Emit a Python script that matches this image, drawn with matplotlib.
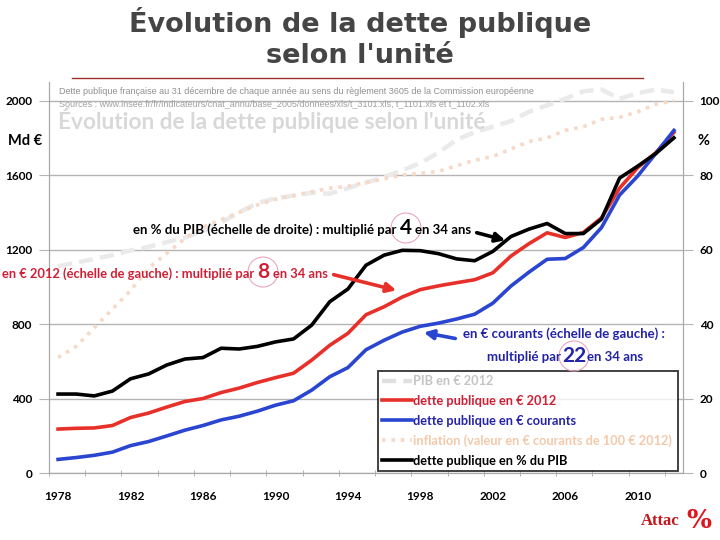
import matplotlib
matplotlib.use('Agg')
import matplotlib.pyplot as plt
from matplotlib.patches import Ellipse, FancyArrowPatch
from matplotlib.lines import Line2D

# données
annees = [1978, 1979, 1980, 1981, 1982, 1983, 1984, 1985, 1986, 1987,
          1988, 1989, 1990, 1991, 1992, 1993, 1994, 1995, 1996, 1997,
          1998, 1999, 2000, 2001, 2002, 2003, 2004, 2005, 2006, 2007,
          2008, 2009, 2010, 2011, 2012]
dette_courants = [73, 83, 95, 112, 147, 169, 199, 230, 255, 285,
                  305, 332, 364, 388, 445, 517, 566, 662, 713, 757,
                  788, 805, 827, 853, 912, 1004, 1079, 1148, 1152, 1211,
                  1318, 1493, 1595, 1717, 1840]
dette_2012 = [236, 240, 242, 255, 298, 322, 354, 384, 400, 432,
              456, 486, 512, 536, 606, 686, 750, 850, 893, 945,
              985, 1005, 1022, 1038, 1075, 1165, 1232, 1290, 1265, 1292,
              1370, 1530, 1640, 1720, 1830]
pib_2012 = [1110, 1130, 1150, 1170, 1195, 1215, 1240, 1265, 1300, 1345,
            1400, 1450, 1475, 1490, 1505, 1500, 1530, 1560, 1590, 1625,
            1665, 1720, 1790, 1830, 1860, 1890, 1940, 1975, 2010, 2050,
            2060, 2010, 2040, 2060, 2045]
dette_pct_pib = [21.2, 21.2, 20.7, 22.0, 25.3, 26.6, 29.0, 30.6, 31.0, 33.5,
                 33.3, 34.0, 35.2, 36.0, 39.7, 46.0, 49.4, 55.8, 58.5, 59.8,
                 59.7, 58.9, 57.5, 57.0, 59.5, 63.5, 65.5, 67.0, 64.3, 64.3,
                 68.2, 79.2, 82.4, 85.8, 90.0]
inflation = [31, 34, 39, 44, 49, 55, 59, 63, 66, 68,
             70, 72, 73.5, 74.5, 75.5, 76.5, 77, 78, 79, 80,
             80.5, 81, 82.5, 84, 85, 87, 89, 90, 92, 93,
             95, 95.5, 97, 99, 100]

labels_x = [1978, 1982, 1986, 1990, 1994, 1998, 2002, 2006, 2010]

plt.rcParams['font.family'] = ['Lato', 'DejaVu Sans']

W, H = 720, 540
fig = plt.figure(figsize=(7.2, 5.4), dpi=100)

def fx(x):
    return x / W

def fy(y):
    return 1 - y / H

ax = fig.add_axes([fx(49), fy(473), fx(683) - fx(49), fy(82) - fy(473)])
ax2 = ax.twinx()

c_gris = '#eaeaea'
c_rouge = '#e8302a'
c_bleu = '#2a45d0'
c_infl = '#f6d9c6'
c_grille = '#b4b4b4'

ax.plot(annees, pib_2012, color=c_gris, lw=3.2, ls=(0, (3.2, 1.6)), zorder=2)
ax.plot(annees, dette_2012, color=c_rouge, lw=2.6, zorder=4)
ax.plot(annees, dette_courants, color=c_bleu, lw=2.6, zorder=5)
ax2.plot(annees, inflation, color=c_infl, lw=2.6, ls=(0, (1, 1.6)), zorder=2)
ax2.plot(annees, dette_pct_pib, color='black', lw=2.6, zorder=6)

ax.set_xlim(1977.5, 2012.5)
ax.set_ylim(0, 2100)
ax2.set_ylim(0, 105)
ax.set_yticks([0, 400, 800, 1200, 1600, 2000])
ax2.set_yticks([0, 20, 40, 60, 80, 100])
ax.set_xticks(labels_x)
ax.set_xticks([1977.5 + 2 * k for k in range(18)], minor=True)
ax.grid(axis='y', color=c_grille, lw=1, zorder=0)
ax.set_axisbelow(True)

for a in (ax, ax2):
    for s in a.spines.values():
        s.set_color('#a8a8a8')
    a.spines['top'].set_visible(False)

ax.tick_params(axis='y', length=7, color=c_grille, pad=5, labelsize=8.5)
ax2.tick_params(axis='y', length=7, color=c_grille, pad=5, labelsize=8.5)
ax.tick_params(axis='x', which='major', length=0, pad=13, labelsize=8.5)
ax.tick_params(axis='x', which='minor', length=5, direction='inout', color='#a8a8a8')
for lab in ax.get_xticklabels() + ax.get_yticklabels() + ax2.get_yticklabels():
    lab.set_fontweight('bold')

# titre
fig.text(0.5, fy(22), "Évolution de la dette publique", ha='center', va='center',
         fontsize=19.5, fontweight='bold', color='#454545', family='DejaVu Sans')
fig.text(0.5, fy(56), "selon l'unité", ha='center', va='center',
         fontsize=19.5, fontweight='bold', color='#454545', family='DejaVu Sans')
fig.add_artist(Line2D([fx(72), fx(643)], [fy(78), fy(78)], color='#a03030', lw=1))

# textes d'en-tête dans le graphique
fig.text(fx(59), fy(92), "Dette publique française au 31 décembre de chaque année au sens du règlement 3605 de la Commission européenne",
         fontsize=6.5, color='#909090', va='center', family='Liberation Sans')
fig.text(fx(59), fy(104), "Sources : www.insee.fr/fr/indicateurs/cnat_annu/base_2005/donnees/xls/t_3101.xls, t_1101.xls et t_1102.xls",
         fontsize=6.5, color='#a0a0a0', va='center', family='Liberation Sans')
fig.text(fx(58), fy(120), "Évolution de la dette publique selon l'unité",
         fontsize=16.3, fontweight='bold', color='#d8d8d8', va='center')

fig.text(fx(25), fy(141), "Md €", ha='center', va='center', fontsize=10.5, fontweight='bold')
fig.text(fx(703), fy(141), "%", ha='center', va='center', fontsize=10.5, fontweight='bold')

# annotations
def nombre(x, y, txt, color):
    fig.text(fx(x), fy(y), txt, ha='center', va='center', fontsize=15,
             fontweight='bold', color=color)
    fig.add_artist(Ellipse((fx(x), fy(y)), 30 / W, 30 / H, transform=fig.transFigure,
                           fill=False, ec='#eaa6bd', lw=0.8))

c_txt_rouge = '#d01f35'
c_txt_bleu = '#2323a8'

fig.text(fx(396), fy(230), "en % du PIB (échelle de droite) : multiplié par", ha='right',
         va='center', fontsize=9.5, fontweight='bold', color='black')
nombre(406, 228, "4", 'black')
fig.text(fx(415), fy(230), "en 34 ans", ha='left', va='center', fontsize=9.5,
         fontweight='bold', color='black')

fig.text(fx(254), fy(274), "en € 2012 (échelle de gauche) : multiplié par", ha='right',
         va='center', fontsize=9.3, fontweight='bold', color=c_txt_rouge)
nombre(263, 272, "8", c_txt_rouge)
fig.text(fx(273), fy(274), "en 34 ans", ha='left', va='center', fontsize=9.3,
         fontweight='bold', color=c_txt_rouge)

fig.text(fx(463), fy(334), "en € courants (échelle de gauche) :", ha='left',
         va='center', fontsize=9.5, fontweight='bold', color=c_txt_bleu)
fig.text(fx(561), fy(357), "multiplié par", ha='right', va='center', fontsize=9.5,
         fontweight='bold', color=c_txt_bleu)
nombre(574, 356, "22", c_txt_bleu)
fig.text(fx(587), fy(357), "en 34 ans", ha='left', va='center', fontsize=9.5,
         fontweight='bold', color=c_txt_bleu)

def fleche(x0, y0, x1, y1, color):
    fig.add_artist(FancyArrowPatch(
        (fx(x0), fy(y0)), (fx(x1), fy(y1)), transform=fig.transFigure,
        arrowstyle='-|>', mutation_scale=14, lw=2.6, color=color))

fleche(474, 232, 508, 241, 'black')
fleche(331, 274, 399, 291, c_rouge)
fleche(458, 339, 421, 332, c_bleu)

# légende
handles = [
    Line2D([], [], color='#e0e0e0', lw=3.2, ls=(0, (3.2, 1.6))),
    Line2D([], [], color=c_rouge, lw=2.6),
    Line2D([], [], color=c_bleu, lw=2.6),
    Line2D([], [], color=c_infl, lw=2.6, ls=(0, (1, 1.6))),
    Line2D([], [], color='black', lw=2.6),
]
noms = ["PIB en € 2012", "dette publique en € 2012", "dette publique en € courants",
        "inflation (valeur en € courants de 100 € 2012)", "dette publique en % du PIB"]
couleurs = ['#c4c4c4', c_txt_rouge, c_txt_bleu, '#f3c9aa', 'black']
leg = ax2.legend(handles, noms, loc='lower left',
                 bbox_to_anchor=((378 - 49) / 634, (473 - 471) / 391, (678 - 378) / 634, (471 - 367) / 391),
                 mode='expand', fontsize=9.2, frameon=True, fancybox=False,
                 handlelength=2.3, handletextpad=0.1, labelspacing=0.6, borderpad=0.35,
                 borderaxespad=0)
leg.get_frame().set_edgecolor('black')
leg.get_frame().set_linewidth(1.3)
for t, c in zip(leg.get_texts(), couleurs):
    t.set_color(c)
    t.set_fontweight('bold')
leg.set_zorder(10)

# logo
fig.text(fx(660), fy(521), "Attac", ha='center', va='center', fontsize=12,
         fontweight='bold', color='#c4161c', family='Liberation Serif')
fig.text(fx(699), fy(521), "%", ha='center', va='center', fontsize=19,
         fontweight='bold', color='#e0141e', family='DejaVu Serif')

fig.savefig('out.png', dpi=100)
